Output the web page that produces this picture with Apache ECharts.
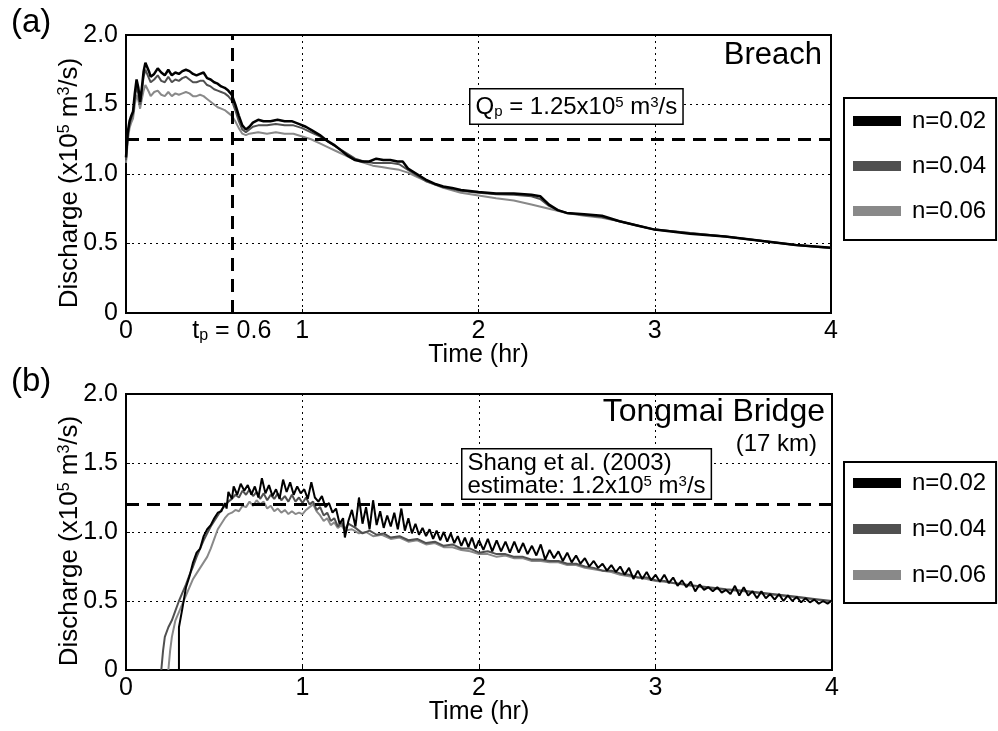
<!DOCTYPE html>
<html lang="en">
<head>
<meta charset="UTF-8">
<title>Discharge at breach and Tongmai Bridge</title>
<script src="https://cdn.jsdelivr.net/npm/echarts@6/dist/echarts.min.js"></script>
<style>
    html, body, #chart {
        width: 998px;
        height: 731px;
        margin: 0;
        padding: 0;
        background: #fff;
    }
</style>
</head>
<body>
<div id="chart"></div>
<script>
    // legend names and grey levels
    var names = ["n=0.02", "n=0.04", "n=0.06"];
    var colors = ["#000000", "#505050", "#898989"];

    // reference lines
    var breachQp = 1.25;
    var breachTp = 0.6;
    var tongmaiEstimate = 1.2;

    // (a) Breach, [time (hr), discharge (x10^5 m3/s)]
    var breach002 = [[0,1.12],[0.01,1.30],[0.02,1.38],[0.03,1.42],[0.04,1.45],[0.05,1.58],[0.06,1.68],[0.07,1.62],[0.08,1.52],[0.09,1.62],[0.10,1.74],[0.11,1.80],[0.12,1.79],[0.13,1.74],[0.14,1.70],[0.16,1.72],[0.18,1.76],[0.20,1.73],[0.22,1.71],[0.24,1.75],[0.26,1.71],[0.28,1.73],[0.30,1.72],[0.32,1.74],[0.34,1.75],[0.36,1.74],[0.38,1.72],[0.40,1.71],[0.42,1.72],[0.44,1.73],[0.46,1.69],[0.48,1.68],[0.50,1.66],[0.52,1.65],[0.54,1.63],[0.56,1.62],[0.58,1.60],[0.60,1.57],[0.62,1.50],[0.64,1.42],[0.66,1.35],[0.68,1.32],[0.70,1.34],[0.72,1.37],[0.75,1.39],[0.78,1.38],[0.82,1.38],[0.86,1.39],[0.90,1.38],[0.94,1.38],[0.98,1.36],[1.02,1.34],[1.06,1.31],[1.10,1.28],[1.14,1.24],[1.18,1.21],[1.22,1.17],[1.26,1.13],[1.30,1.10],[1.34,1.09],[1.38,1.09],[1.42,1.11],[1.46,1.10],[1.50,1.10],[1.54,1.09],[1.57,1.09],[1.60,1.04],[1.65,1.00],[1.70,0.96],[1.75,0.93],[1.80,0.91],[1.85,0.90],[1.90,0.885],[2.0,0.87],[2.1,0.86],[2.2,0.86],[2.3,0.85],[2.35,0.84],[2.4,0.78],[2.45,0.74],[2.5,0.72],[2.6,0.71],[2.7,0.70],[2.8,0.66],[2.9,0.63],[3.0,0.60],[3.2,0.57],[3.4,0.55],[3.6,0.52],[3.8,0.49],[4.0,0.47]];
    var breach004 = [[0,1.10],[0.01,1.28],[0.02,1.36],[0.03,1.40],[0.04,1.43],[0.05,1.55],[0.06,1.63],[0.07,1.58],[0.08,1.50],[0.09,1.60],[0.10,1.70],[0.11,1.75],[0.12,1.74],[0.13,1.69],[0.14,1.66],[0.16,1.68],[0.18,1.71],[0.20,1.67],[0.22,1.66],[0.24,1.70],[0.26,1.66],[0.28,1.68],[0.30,1.67],[0.32,1.69],[0.34,1.70],[0.36,1.68],[0.38,1.66],[0.40,1.66],[0.42,1.67],[0.44,1.67],[0.46,1.64],[0.48,1.63],[0.50,1.61],[0.52,1.60],[0.54,1.59],[0.56,1.58],[0.58,1.56],[0.60,1.53],[0.62,1.46],[0.64,1.38],[0.66,1.32],[0.68,1.30],[0.70,1.32],[0.72,1.34],[0.75,1.35],[0.80,1.35],[0.85,1.36],[0.90,1.35],[0.95,1.35],[1.0,1.33],[1.05,1.30],[1.10,1.27],[1.15,1.23],[1.20,1.19],[1.25,1.15],[1.30,1.11],[1.35,1.09],[1.40,1.08],[1.45,1.08],[1.50,1.08],[1.55,1.07],[1.60,1.03],[1.65,0.99],[1.70,0.95],[1.80,0.905],[1.90,0.88],[2.0,0.865],[2.1,0.855],[2.2,0.85],[2.3,0.84],[2.35,0.82],[2.4,0.77],[2.45,0.74],[2.5,0.72],[2.6,0.705],[2.7,0.69],[2.8,0.66],[2.9,0.63],[3.0,0.60],[3.2,0.575],[3.4,0.55],[3.6,0.52],[3.8,0.49],[4.0,0.47]];
    var breach006 = [[0,1.08],[0.01,1.24],[0.02,1.33],[0.03,1.37],[0.04,1.40],[0.05,1.50],[0.06,1.57],[0.07,1.53],[0.08,1.47],[0.09,1.54],[0.10,1.60],[0.11,1.64],[0.12,1.63],[0.13,1.59],[0.14,1.56],[0.16,1.59],[0.18,1.60],[0.20,1.57],[0.22,1.56],[0.24,1.59],[0.26,1.56],[0.28,1.58],[0.30,1.57],[0.32,1.58],[0.34,1.59],[0.36,1.58],[0.38,1.56],[0.40,1.56],[0.42,1.57],[0.44,1.56],[0.46,1.54],[0.48,1.52],[0.50,1.50],[0.52,1.48],[0.54,1.47],[0.56,1.46],[0.58,1.44],[0.60,1.42],[0.62,1.38],[0.64,1.33],[0.66,1.29],[0.68,1.28],[0.70,1.29],[0.75,1.30],[0.80,1.29],[0.85,1.30],[0.90,1.29],[0.95,1.29],[1.0,1.27],[1.05,1.25],[1.10,1.22],[1.15,1.19],[1.20,1.16],[1.25,1.13],[1.30,1.10],[1.35,1.08],[1.40,1.06],[1.45,1.05],[1.50,1.04],[1.55,1.03],[1.60,1.01],[1.65,0.98],[1.70,0.95],[1.80,0.90],[1.90,0.865],[2.0,0.845],[2.1,0.825],[2.2,0.81],[2.3,0.78],[2.4,0.75],[2.5,0.72],[2.6,0.70],[2.7,0.685],[2.8,0.66],[2.9,0.63],[3.0,0.60],[3.2,0.575],[3.4,0.55],[3.6,0.52],[3.8,0.49],[4.0,0.465]];

    // (b) Tongmai Bridge (17 km)
    var tongmai002 = [[0.30,0],[0.30,0.31],[0.32,0.45],[0.34,0.60],[0.36,0.68],[0.38,0.78],[0.40,0.85],[0.42,0.88],[0.44,0.97],[0.46,1.02],[0.48,1.05],[0.50,1.10],[0.52,1.14],[0.54,1.15],[0.56,1.21],[0.57,1.17],[0.58,1.29],[0.60,1.24],[0.61,1.33],[0.63,1.27],[0.65,1.35],[0.67,1.30],[0.69,1.34],[0.71,1.27],[0.73,1.33],[0.75,1.25],[0.77,1.39],[0.79,1.28],[0.81,1.34],[0.83,1.26],[0.85,1.31],[0.87,1.24],[0.89,1.38],[0.91,1.29],[0.93,1.36],[0.95,1.27],[0.97,1.33],[0.99,1.28],[1.01,1.31],[1.03,1.24],[1.05,1.36],[1.07,1.25],[1.09,1.22],[1.11,1.26],[1.13,1.18],[1.15,1.21],[1.17,1.14],[1.19,1.17],[1.21,1.06],[1.23,1.10],[1.24,0.96],[1.26,1.08],[1.28,1.16],[1.30,1.04],[1.32,1.25],[1.34,1.06],[1.36,1.18],[1.38,1.02],[1.40,1.23],[1.42,1.05],[1.44,1.15],[1.46,1.03],[1.48,1.12],[1.50,1.04],[1.52,1.14],[1.54,1.02],[1.56,1.17],[1.58,1.01],[1.60,1.10],[1.62,0.99],[1.64,1.06],[1.66,0.98],[1.68,1.03],[1.70,0.97],[1.72,1.02],[1.74,0.95],[1.76,1.01],[1.78,0.94],[1.80,1.00],[1.82,0.93],[1.84,0.99],[1.86,0.92],[1.88,0.97],[1.90,0.90],[1.92,0.96],[1.94,0.89],[1.96,0.96],[1.98,0.88],[2.000,0.94],[2.025,0.87],[2.050,0.95],[2.075,0.86],[2.100,0.94],[2.125,0.86],[2.150,0.93],[2.175,0.85],[2.200,0.93],[2.225,0.85],[2.250,0.92],[2.275,0.84],[2.300,0.90],[2.325,0.83],[2.350,0.91],[2.375,0.80],[2.400,0.87],[2.425,0.81],[2.450,0.86],[2.475,0.79],[2.500,0.85],[2.525,0.78],[2.550,0.83],[2.575,0.77],[2.600,0.81],[2.625,0.75],[2.650,0.79],[2.675,0.74],[2.700,0.77],[2.725,0.72],[2.750,0.76],[2.775,0.71],[2.800,0.75],[2.825,0.69],[2.850,0.74],[2.875,0.66],[2.900,0.72],[2.925,0.66],[2.950,0.71],[2.975,0.65],[3.000,0.69],[3.025,0.64],[3.050,0.69],[3.075,0.63],[3.100,0.67],[3.125,0.61],[3.150,0.65],[3.175,0.60],[3.200,0.64],[3.225,0.57],[3.250,0.62],[3.275,0.58],[3.300,0.60],[3.325,0.57],[3.350,0.60],[3.375,0.56],[3.400,0.58],[3.425,0.55],[3.450,0.61],[3.475,0.54],[3.500,0.60],[3.525,0.54],[3.550,0.57],[3.575,0.52],[3.600,0.57],[3.625,0.52],[3.650,0.55],[3.675,0.51],[3.700,0.55],[3.725,0.50],[3.750,0.54],[3.775,0.50],[3.800,0.53],[3.825,0.49],[3.850,0.52],[3.875,0.49],[3.900,0.51],[3.925,0.48],[3.950,0.50],[3.975,0.48],[4.000,0.505]];
    var tongmai004 = [[0.20,0],[0.21,0.14],[0.22,0.24],[0.24,0.31],[0.26,0.36],[0.28,0.43],[0.30,0.50],[0.32,0.56],[0.34,0.62],[0.36,0.69],[0.38,0.75],[0.40,0.82],[0.42,0.88],[0.44,0.94],[0.46,0.99],[0.48,1.04],[0.50,1.08],[0.52,1.12],[0.54,1.16],[0.56,1.19],[0.58,1.22],[0.60,1.24],[0.62,1.27],[0.64,1.25],[0.66,1.30],[0.68,1.27],[0.70,1.31],[0.72,1.26],[0.74,1.29],[0.76,1.24],[0.78,1.28],[0.80,1.23],[0.82,1.27],[0.84,1.24],[0.86,1.28],[0.88,1.23],[0.90,1.26],[0.92,1.22],[0.94,1.27],[0.96,1.22],[0.98,1.25],[1.00,1.21],[1.02,1.25],[1.04,1.20],[1.06,1.22],[1.08,1.16],[1.10,1.18],[1.12,1.12],[1.14,1.14],[1.16,1.08],[1.18,1.10],[1.20,1.04],[1.22,1.07],[1.24,1.02],[1.26,1.06],[1.30,1.03],[1.34,0.99],[1.38,1.01],[1.42,0.98],[1.46,0.99],[1.50,0.96],[1.55,0.97],[1.60,0.94],[1.65,0.95],[1.70,0.92],[1.75,0.93],[1.80,0.90],[1.85,0.91],[1.90,0.88],[1.95,0.88],[2.00,0.85],[2.05,0.86],[2.10,0.84],[2.15,0.84],[2.20,0.82],[2.25,0.82],[2.30,0.80],[2.35,0.80],[2.40,0.79],[2.45,0.79],[2.50,0.77],[2.55,0.77],[2.60,0.75],[2.65,0.74],[2.70,0.72],[2.75,0.72],[2.80,0.70],[2.85,0.69],[2.90,0.67],[2.95,0.67],[3.00,0.65],[3.05,0.645],[3.10,0.63],[3.20,0.615],[3.30,0.60],[3.40,0.585],[3.50,0.575],[3.60,0.56],[3.70,0.545],[3.80,0.53],[3.90,0.515],[4.00,0.50]];
    var tongmai006 = [[0.24,0],[0.25,0.14],[0.26,0.24],[0.28,0.36],[0.30,0.42],[0.32,0.48],[0.34,0.54],[0.36,0.60],[0.38,0.66],[0.40,0.70],[0.42,0.74],[0.44,0.78],[0.46,0.82],[0.48,0.88],[0.50,0.95],[0.52,1.02],[0.54,1.06],[0.56,1.10],[0.58,1.13],[0.60,1.14],[0.62,1.16],[0.64,1.15],[0.66,1.19],[0.68,1.18],[0.70,1.22],[0.72,1.19],[0.74,1.23],[0.76,1.20],[0.78,1.22],[0.80,1.17],[0.82,1.19],[0.84,1.15],[0.86,1.17],[0.88,1.14],[0.90,1.16],[0.92,1.13],[0.94,1.15],[0.96,1.13],[0.98,1.14],[1.00,1.13],[1.02,1.16],[1.04,1.18],[1.06,1.20],[1.08,1.15],[1.10,1.12],[1.12,1.08],[1.14,1.10],[1.16,1.05],[1.18,1.07],[1.20,1.03],[1.22,1.05],[1.24,1.01],[1.28,1.02],[1.32,0.99],[1.36,1.00],[1.40,0.97],[1.45,0.98],[1.50,0.95],[1.55,0.96],[1.60,0.93],[1.65,0.94],[1.70,0.91],[1.75,0.92],[1.80,0.89],[1.85,0.89],[1.90,0.87],[1.95,0.86],[2.00,0.84],[2.05,0.84],[2.10,0.82],[2.15,0.83],[2.20,0.81],[2.25,0.81],[2.30,0.79],[2.35,0.79],[2.40,0.78],[2.45,0.78],[2.50,0.76],[2.55,0.76],[2.60,0.74],[2.65,0.73],[2.70,0.72],[2.75,0.71],[2.80,0.69],[2.85,0.68],[2.90,0.67],[2.95,0.66],[3.00,0.645],[3.05,0.64],[3.10,0.63],[3.20,0.61],[3.30,0.595],[3.40,0.58],[3.50,0.57],[3.60,0.555],[3.70,0.54],[3.80,0.525],[3.90,0.51],[4.00,0.495]];

    var FONT = "'Liberation Sans', Arial, sans-serif";
    function richSet(size) {
        return {
            t: {fontSize: size, fontFamily: FONT, color: "#000"},
            v: {fontSize: size, fontFamily: FONT, color: "#000"},
            sup: {fontSize: Math.round(size * 0.62), fontFamily: FONT, color: "#000", verticalAlign: "top", lineHeight: 18},
            sub: {fontSize: Math.round(size * 0.62), fontFamily: FONT, color: "#000", verticalAlign: "bottom", lineHeight: 18}
        };
    }
    var richSup = richSet(24);
    var richName = richSet(26);
    var richTick = richSet(25);

    var myChart = echarts.init(document.getElementById("chart"), null, {renderer: "canvas"});

    function xAxisFor(gi) {
        return {
            type: "value", gridIndex: gi, min: 0, max: 4, interval: 1,
            name: "Time (hr)", nameLocation: "middle", nameGap: 30, nameMoveOverlap: false,
            nameTextStyle: {fontSize: 25, fontFamily: FONT, color: "#000"},
            axisLine: {show: true, onZero: false, lineStyle: {color: "#000", width: 2}},
            axisTick: {show: true, inside: true, length: 4, lineStyle: {color: "#000"}},
            axisLabel: {
                fontSize: 25, fontFamily: FONT, color: "#000", margin: 6, rich: richTick,
                formatter: function (v) { return "{v|" + v + "}"; }
            },
            splitLine: {show: true, lineStyle: {color: "#000", width: 1, type: [2, 4]}}
        };
    }

    function yAxisFor(gi) {
        return {
            type: "value", gridIndex: gi, min: 0, max: 2, interval: 0.5,
            name: "{t|Discharge (x10}{sup|5}{t| m}{sup|3}{t|/s)}",
            nameLocation: "middle", nameGap: 43, nameRotate: 90, nameMoveOverlap: false,
            nameTextStyle: {fontSize: 26, fontFamily: FONT, color: "#000", rich: richName, padding: [0, 18, 0, 0]},
            axisLine: {show: true, onZero: false, lineStyle: {color: "#000", width: 2}},
            axisTick: {show: true, inside: true, length: 4, lineStyle: {color: "#000"}},
            axisLabel: {
                fontSize: 25, fontFamily: FONT, color: "#000", margin: 8, rich: richTick,
                formatter: function (v) { return "{v|" + (v === 0 ? "0" : v.toFixed(1)) + "}"; }
            },
            splitLine: {show: true, lineStyle: {color: "#000", width: 1, type: [2, 4]}}
        };
    }

    var dash = {color: "#000", width: 3, type: [13, 8]};

    function lineSeries(name, color, data, gi, width, markLine) {
        var s = {
            name: name, type: "line", xAxisIndex: gi, yAxisIndex: gi,
            data: data, showSymbol: false, symbol: "none",
            color: color,
            lineStyle: {color: color, width: width},
            itemStyle: {color: color},
            animation: false
        };
        if (markLine) s.markLine = markLine;
        return s;
    }

    var breachLines = {
        silent: true, symbol: "none", animation: false,
        data: [
            [{coord: [0, breachQp], lineStyle: dash, label: {show: false}}, {coord: [4, breachQp]}],
            [{
                coord: [breachTp, 0], lineStyle: dash,
                label: {
                    show: true, position: "start", distance: 6,
                    formatter: "{t|t}{sub|p}{t| = 0.6}", rich: richTick
                }
            }, {coord: [breachTp, 2]}]
        ]
    };
    var tongmaiLines = {
        silent: true, symbol: "none", animation: false,
        data: [
            [{coord: [0, tongmaiEstimate], lineStyle: dash, label: {show: false}}, {coord: [4, tongmaiEstimate]}]
        ]
    };

    function legendFor(top, gap, pad) {
        return {
            data: names, orient: "vertical", left: 844, top: top,
            icon: "rect", itemWidth: 48, itemHeight: 10, itemGap: gap,
            padding: pad, borderColor: "#000", borderWidth: 2,
            backgroundColor: "#fff",
            textStyle: {fontSize: 24, fontFamily: FONT, color: "#000", padding: [0, 0, 0, 6]}
        };
    }

    var option = {
        backgroundColor: "#fff",
        animation: false,
        grid: [
            {left: 126, top: 35, width: 705, height: 278, show: true, borderColor: "#000", borderWidth: 2, backgroundColor: "transparent"},
            {left: 126, top: 394, width: 706, height: 276, show: true, borderColor: "#000", borderWidth: 2, backgroundColor: "transparent"}
        ],
        xAxis: [xAxisFor(0), xAxisFor(1)],
        yAxis: [yAxisFor(0), yAxisFor(1)],
        legend: [
            legendFor(98, 21, [11, 10, 17, 9]),
            legendFor(462, 22, [9, 10, 16, 9])
        ],
        series: [
            lineSeries(names[2], colors[2], breach006, 0, 2),
            lineSeries(names[1], colors[1], breach004, 0, 2),
            lineSeries(names[0], colors[0], breach002, 0, 2.5, breachLines),
            lineSeries(names[2], colors[2], tongmai006, 1, 2),
            lineSeries(names[1], colors[1], tongmai004, 1, 2),
            lineSeries(names[0], colors[0], tongmai002, 1, 2, tongmaiLines)
        ],
        graphic: [
            {type: "text", left: 11, top: 6, style: {text: "(a)", fontSize: 33, fontFamily: FONT, fill: "#000"}},
            {type: "text", left: 11, top: 365, style: {text: "(b)", fontSize: 33, fontFamily: FONT, fill: "#000"}},
            {type: "text", right: 176, top: 40, style: {text: "Breach", fontSize: 31, fontFamily: FONT, fill: "#000"}},
            {type: "text", right: 173, top: 396, style: {text: "Tongmai Bridge", fontSize: 32, fontFamily: FONT, fill: "#000"}},
            {type: "text", right: 181, top: 432, style: {text: "(17 km)", fontSize: 24, fontFamily: FONT, fill: "#000"}},
            {
                type: "text", left: 469, top: 88, z: 10,
                style: {
                    text: "{t|Q}{sub|p}{t| = 1.25x10}{sup|5}{t| m}{sup|3}{t|/s}",
                    rich: richSup, fill: "#000",
                    backgroundColor: "#fff", borderColor: "#000", borderWidth: 1.5,
                    padding: [6, 5, 4, 5]
                }
            },
            {
                type: "text", left: 461, top: 448, z: 10,
                style: {
                    text: "{t|Shang et al. (2003)}\n{t|estimate: 1.2x10}{sup|5}{t| m}{sup|3}{t|/s}",
                    rich: richSup, fill: "#000", lineHeight: 23,
                    backgroundColor: "#fff", borderColor: "#000", borderWidth: 1.5,
                    padding: [2, 5, 1, 5]
                }
            }
        ]
    };

    myChart.setOption(option);
</script>
</body>
</html>
